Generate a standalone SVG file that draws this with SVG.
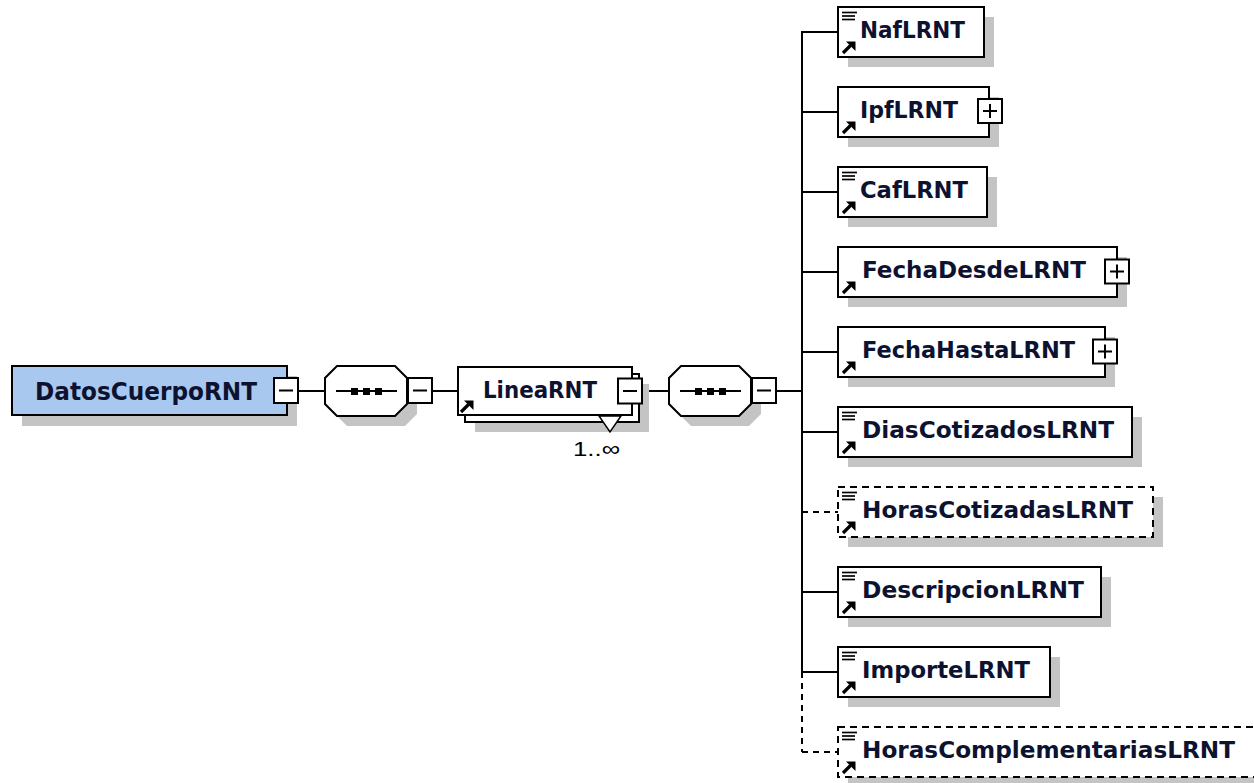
<svg xmlns="http://www.w3.org/2000/svg" width="1254" height="783" viewBox="0 0 1254 783">
<style>
.bg{fill:#ffffff}
.sh{fill:#c4c4c4;stroke:none}
.box{fill:#ffffff;stroke:#000;stroke-width:2}
.dbox{fill:#ffffff;stroke:#000;stroke-width:2;stroke-dasharray:7 5}
.root{fill:#a8c8f0;stroke:#000;stroke-width:2}
.ln{stroke:#000;stroke-width:2;fill:none}
.dln{stroke:#000;stroke-width:2;fill:none;stroke-dasharray:6 5}
.lbl{font-family:"DejaVu Sans",Verdana,sans-serif;font-weight:bold;font-size:23px;fill:#0c1230}
.occ{font-family:"Liberation Sans",Arial,sans-serif;font-size:21px;fill:#000}
.ic{stroke:#000;stroke-width:1.7;fill:none}
</style>
<defs>
<g id="iconLines">
<line class="ic" x1="4" y1="5.5" x2="19" y2="5.5"/>
<line class="ic" x1="4" y1="9" x2="17" y2="9"/>
<line class="ic" x1="4" y1="12.5" x2="17" y2="12.5"/>
</g>
<g id="iconArrow">
<line x1="5" y1="46" x2="12.5" y2="38.5" stroke="#000" stroke-width="3.2"/>
<polygon points="8,34.5 17.5,34.5 17.5,44" fill="#000"/>
</g>
<g id="minus">
<rect x="-12" y="-12.5" width="24" height="25" class="box"/>
<line x1="-7" y1="0" x2="7" y2="0" class="ln"/>
</g>
<g id="plus">
<rect x="-12" y="-12" width="24" height="24" class="box"/>
<line x1="-7" y1="0" x2="7" y2="0" class="ln"/>
<line x1="0" y1="-7" x2="0" y2="7" class="ln"/>
</g>
</defs>
<rect class="bg" x="0" y="0" width="1254" height="783"/>

<g id="connectors">
<line class="ln" x1="298" y1="391" x2="325" y2="391"/>
<line class="ln" x1="432" y1="391" x2="458" y2="391"/>
<line class="ln" x1="643" y1="391" x2="669" y2="391"/>
<line class="ln" x1="776" y1="391" x2="802" y2="391"/>
<line class="ln" x1="802" y1="31" x2="802" y2="672"/>
<line class="dln" x1="802" y1="672" x2="802" y2="752"/>
<line class="ln" x1="802" y1="32" x2="838" y2="32"/>
<line class="ln" x1="802" y1="112" x2="838" y2="112"/>
<line class="ln" x1="802" y1="192" x2="838" y2="192"/>
<line class="ln" x1="802" y1="272" x2="838" y2="272"/>
<line class="ln" x1="802" y1="352" x2="838" y2="352"/>
<line class="ln" x1="802" y1="432" x2="838" y2="432"/>
<line class="dln" x1="802" y1="512" x2="838" y2="512"/>
<line class="ln" x1="802" y1="592" x2="838" y2="592"/>
<line class="ln" x1="802" y1="672" x2="838" y2="672"/>
<line class="dln" x1="802" y1="752" x2="838" y2="752"/>
</g>

<g id="DatosCuerpoRNT">
<rect class="sh" x="22" y="376" width="275" height="50"/>
<rect class="root" x="12" y="366" width="275" height="49"/>
<text class="lbl" x="35" y="400" style="font-size:24px" textLength="222" lengthAdjust="spacingAndGlyphs">DatosCuerpoRNT</text>
<use href="#minus" x="286" y="390.5"/>
</g>

<g id="seq1">
<polygon class="sh" points="347,376 405,376 417,388 417,414 405,426 347,426 335,414 335,388"/>
<polygon class="box" points="337,366 395,366 407,378 407,404 395,416 337,416 325,404 325,378"/>
<line class="ln" x1="336" y1="391" x2="397" y2="391"/>
<rect x="351" y="388" width="7" height="7" fill="#000"/>
<rect x="363" y="388" width="7" height="7" fill="#000"/>
<rect x="375" y="388" width="7" height="7" fill="#000"/>
<use href="#minus" x="420" y="390.5"/>
</g>

<g id="LineaRNT">
<rect class="sh" x="475" y="384" width="174" height="48"/>
<rect class="box" x="465" y="374" width="174" height="48"/>
<rect class="box" x="458" y="367" width="174" height="48"/>
<use href="#iconArrow" x="456" y="366"/>
<text class="lbl" x="483" y="398" textLength="114" lengthAdjust="spacingAndGlyphs">LineaRNT</text>
<use href="#minus" x="630" y="391"/>
<polygon points="599,416 621,416 610,432" fill="#fff" stroke="#000" stroke-width="1.5"/>
<text class="occ" x="573" y="456" textLength="47" lengthAdjust="spacingAndGlyphs">1..∞</text>
</g>

<g id="seq2">
<polygon class="sh" points="691,376 749,376 761,388 761,414 749,426 691,426 679,414 679,388"/>
<polygon class="box" points="681,366 739,366 751,378 751,404 739,416 681,416 669,404 669,378"/>
<line class="ln" x1="680" y1="391" x2="741" y2="391"/>
<rect x="695" y="388" width="7" height="7" fill="#000"/>
<rect x="707" y="388" width="7" height="7" fill="#000"/>
<rect x="719" y="388" width="7" height="7" fill="#000"/>
<use href="#minus" x="764" y="390.5"/>
</g>

<g id="NafLRNT">
<rect class="sh" x="848" y="17" width="146" height="50"/>
<rect class="box" x="838" y="7" width="146" height="50"/>
<use href="#iconLines" x="838" y="7"/>
<use href="#iconArrow" x="838" y="7"/>
<text class="lbl" x="860" y="38" textLength="105" lengthAdjust="spacingAndGlyphs">NafLRNT</text>
</g>

<g id="IpfLRNT">
<rect class="sh" x="848" y="97" width="151" height="50"/>
<rect class="box" x="838" y="87" width="151" height="50"/>
<use href="#iconArrow" x="838" y="87"/>
<text class="lbl" x="860" y="118" textLength="98" lengthAdjust="spacingAndGlyphs">IpfLRNT</text>
<use href="#plus" x="990" y="111"/>
</g>

<g id="CafLRNT">
<rect class="sh" x="848" y="177" width="149" height="50"/>
<rect class="box" x="838" y="167" width="149" height="50"/>
<use href="#iconLines" x="838" y="167"/>
<use href="#iconArrow" x="838" y="167"/>
<text class="lbl" x="860" y="198" textLength="108" lengthAdjust="spacingAndGlyphs">CafLRNT</text>
</g>

<g id="FechaDesdeLRNT">
<rect class="sh" x="848" y="257" width="279" height="50"/>
<rect class="box" x="838" y="247" width="279" height="50"/>
<use href="#iconArrow" x="838" y="247"/>
<text class="lbl" x="862" y="278" textLength="224" lengthAdjust="spacingAndGlyphs">FechaDesdeLRNT</text>
<use href="#plus" x="1117" y="271.5"/>
</g>

<g id="FechaHastaLRNT">
<rect class="sh" x="848" y="337" width="267" height="50"/>
<rect class="box" x="838" y="327" width="267" height="50"/>
<use href="#iconArrow" x="838" y="327"/>
<text class="lbl" x="862" y="358" textLength="213" lengthAdjust="spacingAndGlyphs">FechaHastaLRNT</text>
<use href="#plus" x="1105" y="351.5"/>
</g>

<g id="DiasCotizadosLRNT">
<rect class="sh" x="848" y="417" width="294" height="50"/>
<rect class="box" x="838" y="407" width="294" height="50"/>
<use href="#iconLines" x="838" y="407"/>
<use href="#iconArrow" x="838" y="407"/>
<text class="lbl" x="862" y="438" textLength="252" lengthAdjust="spacingAndGlyphs">DiasCotizadosLRNT</text>
</g>

<g id="HorasCotizadasLRNT">
<rect class="sh" x="848" y="497" width="315" height="50"/>
<rect class="dbox" x="838" y="487" width="315" height="50"/>
<use href="#iconLines" x="838" y="487"/>
<use href="#iconArrow" x="838" y="487"/>
<text class="lbl" x="862" y="518" textLength="271" lengthAdjust="spacingAndGlyphs">HorasCotizadasLRNT</text>
</g>

<g id="DescripcionLRNT">
<rect class="sh" x="848" y="577" width="263" height="50"/>
<rect class="box" x="838" y="567" width="263" height="50"/>
<use href="#iconLines" x="838" y="567"/>
<use href="#iconArrow" x="838" y="567"/>
<text class="lbl" x="862" y="598" textLength="222" lengthAdjust="spacingAndGlyphs">DescripcionLRNT</text>
</g>

<g id="ImporteLRNT">
<rect class="sh" x="848" y="657" width="212" height="50"/>
<rect class="box" x="838" y="647" width="212" height="50"/>
<use href="#iconLines" x="838" y="647"/>
<use href="#iconArrow" x="838" y="647"/>
<text class="lbl" x="862" y="678" textLength="168" lengthAdjust="spacingAndGlyphs">ImporteLRNT</text>
</g>

<g id="HorasComplementariasLRNT">
<rect class="sh" x="848" y="737" width="420" height="50"/>
<rect class="dbox" x="838" y="727" width="420" height="50"/>
<use href="#iconLines" x="838" y="727"/>
<use href="#iconArrow" x="838" y="727"/>
<text class="lbl" x="862" y="758" textLength="373" lengthAdjust="spacingAndGlyphs">HorasComplementariasLRNT</text>
</g>
</svg>
